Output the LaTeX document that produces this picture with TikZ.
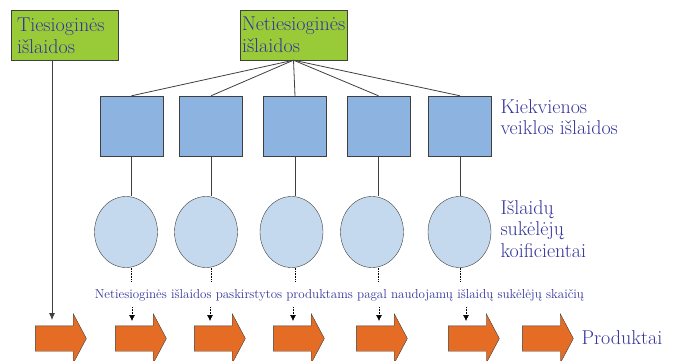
\documentclass[tikz,border=0pt]{standalone}
\usepackage{xcolor}
\usetikzlibrary{arrows,arrows.meta,positioning,shapes.arrows,shapes.geometric}
\definecolor{costcolor}{HTML}{99CB38}
\definecolor{activitycolor}{HTML}{8DB3E0}
\definecolor{drivercolor}{HTML}{C4D8EE}
\definecolor{productcolor}{HTML}{E46C24}
\definecolor{textcolor}{HTML}{34349A}
\definecolor{framecolor}{HTML}{3F3F3F}
\tikzset{
    cost/.style={
        shape=rectangle,
        draw=framecolor,
        fill=costcolor,
        text=textcolor,
        align=left,
        text width=103pt,
        minimum height=50pt,
        inner xsep=2pt,
        font=\fontsize{20}{22}\selectfont
    },
    activity/.style={
        shape=rectangle,
        draw=framecolor,
        fill=activitycolor,
        minimum width=63pt,
        minimum height=60pt
    },
    driver/.style={
        shape=ellipse,
        draw=framecolor,
        fill=drivercolor,
        minimum width=63pt,
        minimum height=71pt
    },
    product/.style={
        single arrow,
        draw=framecolor,
        fill=productcolor,
        minimum height=51pt,
        inner xsep=0pt,
        inner ysep=12.5pt,
        single arrow head extend=12pt,
        single arrow tip angle=124
    },
    sidetext/.style={
        anchor=west,
        align=left,
        text=textcolor,
        font=\fontsize{20}{21.5}\selectfont
    },
    note/.style={
        text=textcolor,
        inner sep=0pt,
        font=\fontsize{13}{15}\selectfont
    },
    tree/.style={
        draw=framecolor,
        line width=0.8pt
    },
    stub/.style={
        densely dotted,
        line width=0.6pt
    },
    share/.style={
        densely dotted,
        line width=0.6pt,
        -{Latex[length=6pt,width=6pt]}
    },
    feed/.style={
        draw=framecolor,
        line width=0.8pt,
        -{Latex[length=7pt,width=6pt]}
    }
}
\begin{document}
\begin{tikzpicture}[x=1pt,y=-1pt]
    \useasboundingbox (0,0) rectangle (674,361);

    \node[cost, inner xsep=6pt, text width=95pt] (direct) at (64.5,35.5) {Tiesioginės\\išlaidos};
    \node[cost] (indirect) at (293.5,35) {Netiesioginės\\išlaidos};

    \node[activity] (a1) at (131.5,126) {};
    \node[activity] (a2) at (211,126) {};
    \node[activity] (a3) at (295,126) {};
    \node[activity] (a4) at (378.5,126) {};
    \node[activity] (a5) at (460,126) {};

    \node[driver] (e1) at (126,232) {};
    \node[driver] (e2) at (206,232) {};
    \node[driver] (e3) at (291.5,232) {};
    \node[driver] (e4) at (372,232) {};
    \node[driver] (e5) at (459.5,232) {};

    \node[product] (p1) at (57.5,338.5) {};
    \node[product] (p2) at (137.5,338.5) {};
    \node[product] (p3) at (216.5,338.5) {};
    \node[product] (p4) at (295.5,338.5) {};
    \node[product] (p5) at (378.5,338.5) {};
    \node[product] (p6) at (470.5,338.5) {};
    \node[product] (p7) at (544.5,338.5) {};

    \node[sidetext] (activitytext) at (497,117) {Kiekvienos\\veiklos išlaidos};
    \node[sidetext] (drivertext) at (497,229) {Išlaidų\\sukėlėjų\\koificientai};
    \node[sidetext] (producttext) at (578,338) {Produktai};
    \node[note] (share) at (339.5,295) {Netiesioginės išlaidos paskirstytos produktams pagal naudojamų išlaidų sukėlėjų skaičių};

    \coordinate (directend) at (52,320);

    \begin{scope} % activities
        \draw[tree] (indirect.south) -- (a1.north);
        \draw[tree] (indirect.south) -- (a2.north);
        \draw[tree] (indirect.south) -- (a3.north);
        \draw[tree] (indirect.south) -- (a4.north);
        \draw[tree] (indirect.south) -- (a5.north);

        \draw[tree] (a1.south) -- (a1.south |- e1.north);
        \draw[tree] (a2.south) -- (a2.south |- e2.north);
        \draw[tree] (a3.south) -- (a3.south |- e3.north);
        \draw[tree] (a4.south) -- (a4.south |- e4.north);
        \draw[tree] (a5.south) -- (a5.south |- e5.north);
    \end{scope}
    \begin{scope} % allocation
        \draw[feed] (direct.south -| directend) -- (directend);

        \draw[stub] (a1.south |- e1.south) -- ++(0,14);
        \draw[stub] (a2.south |- e2.south) -- ++(0,14);
        \draw[stub] (a3.south |- e3.south) -- ++(0,14);
        \draw[stub] (a4.south |- e4.south) -- ++(0,14);
        \draw[stub] (a5.south |- e5.south) -- ++(0,14);

        \draw[share] (132,307) -- (132,321);
        \draw[share] (210,307) -- (210,321);
        \draw[share] (293,307) -- (293,321);
        \draw[share] (379,307) -- (379,321);
        \draw[share] (466,307) -- (466,321);
    \end{scope}
\end{tikzpicture}
\end{document}
